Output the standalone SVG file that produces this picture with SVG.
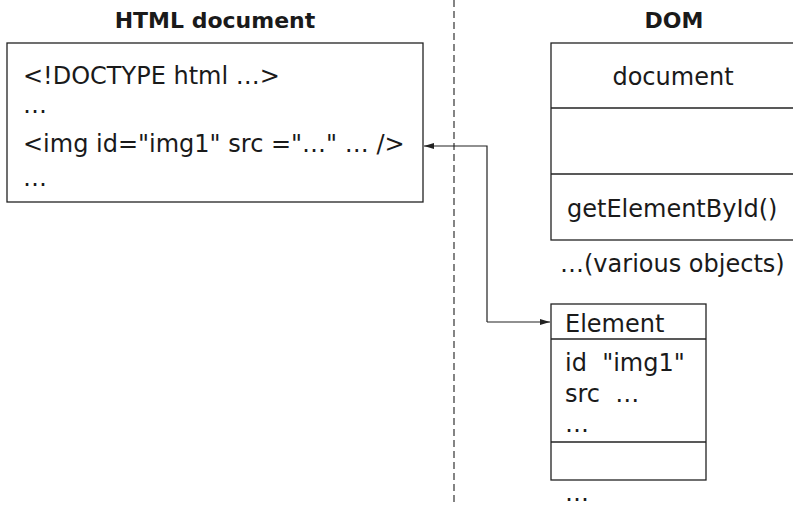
<svg xmlns="http://www.w3.org/2000/svg" width="793" height="506" viewBox="0 0 793 506">
<style>
.t{font-family:"DejaVu Sans",sans-serif;font-size:24px;fill:#1a1a1a}
.h{font-family:"DejaVu Sans",sans-serif;font-size:22px;font-weight:bold;fill:#1a1a1a}
.box{fill:#fff;stroke:#222;stroke-width:1.3}
.ln{stroke:#222;stroke-width:1.3;fill:none}
.con{stroke:#222;stroke-width:1.2;fill:none}
</style>
<defs>
<marker id="ah" viewBox="0 0 10 6" refX="10" refY="3" markerWidth="10" markerHeight="6" markerUnits="userSpaceOnUse" orient="auto">
<path d="M0,0 L10,3 L0,6 z" fill="#222"/>
</marker>
</defs>
<rect width="793" height="506" fill="#fff"/>
<line x1="454" y1="0" x2="454" y2="506" stroke="#333" stroke-width="1.2" stroke-dasharray="7,4"/>
<text class="h" x="215" y="28" text-anchor="middle">HTML document</text>
<text class="h" x="674" y="28" text-anchor="middle">DOM</text>
<g id="html-doc">
<rect class="box" x="7" y="43" width="416" height="159"/>
<text class="t" x="23" y="84">&lt;!DOCTYPE html …&gt;</text>
<text class="t" x="23" y="113">…</text>
<text class="t" x="23" y="152">&lt;img id="img1" src ="…" … /&gt;</text>
<text class="t" x="23" y="186">…</text>
</g>
<g id="dom-document">
<rect class="box" x="551" y="43" width="260" height="197"/>
<line class="ln" x1="551" y1="108" x2="793" y2="108"/>
<line class="ln" x1="551" y1="174" x2="793" y2="174"/>
<text class="t" x="673" y="85" text-anchor="middle">document</text>
<text class="t" x="567" y="217">getElementById()</text>
</g>
<g id="various">
<text class="t" x="560" y="272">…(various objects)</text>
</g>
<g id="element">
<rect class="box" x="551" y="304" width="155" height="176"/>
<line class="ln" x1="551" y1="339" x2="706" y2="339"/>
<line class="ln" x1="551" y1="442" x2="706" y2="442"/>
<text class="t" x="565" y="332">Element</text>
<text class="t" x="565" y="371" xml:space="preserve">id  "img1"</text>
<text class="t" x="565" y="402" xml:space="preserve">src  …</text>
<text class="t" x="565" y="432">…</text>
<text class="t" x="565" y="501">…</text>
</g>
<g id="connectors">
<path class="con" d="M487,322 L487,146 L424,146" marker-end="url(#ah)"/>
<path class="con" d="M487,322 L550,322" marker-end="url(#ah)"/>
</g>
</svg>
